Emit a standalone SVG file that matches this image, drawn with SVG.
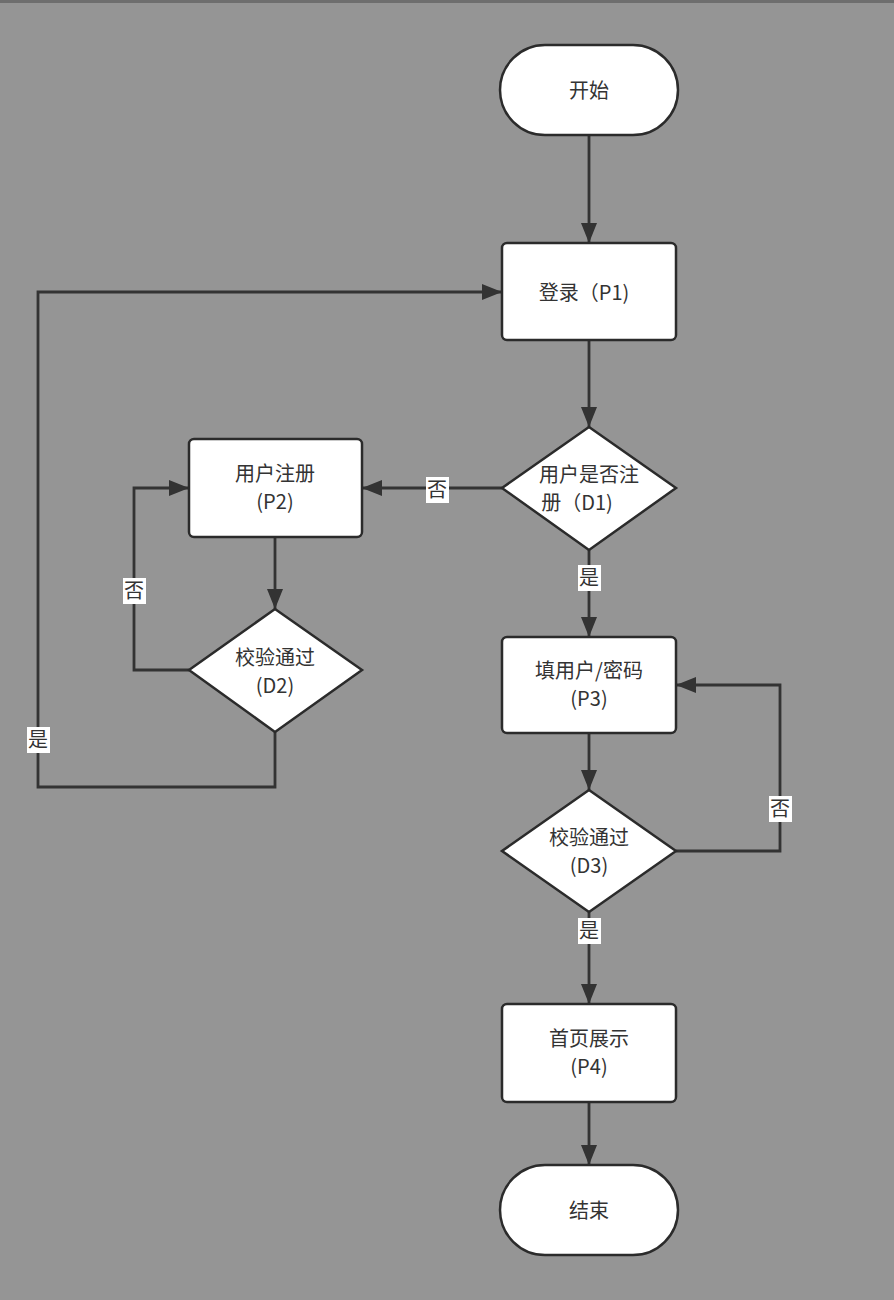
<svg xmlns="http://www.w3.org/2000/svg" width="894" height="1300" viewBox="0 0 894 1300">
<style>
.n{fill:#fff;stroke:#2b2b2b;stroke-width:2.5}
.t{font-family:"Noto Sans CJK SC","Liberation Sans",sans-serif;font-size:20px;fill:#333;text-anchor:middle}
.c{fill:none;stroke:#333;stroke-width:2.8}
.lb{fill:#fff}
</style>
<defs>
<marker id="a" viewBox="0 0 20 16" refX="20" refY="8" markerWidth="20" markerHeight="16" markerUnits="userSpaceOnUse" orient="auto">
<path d="M0,0 L20,8 L0,16 Z" fill="#333"/>
</marker>
</defs>
<rect width="894" height="1300" fill="#959595"/>
<rect width="894" height="3" fill="#6e6e6e"/>
<g id="connectors">
<path class="c" d="M589,135 V243" marker-end="url(#a)"/>
<path class="c" d="M589,340 V427" marker-end="url(#a)"/>
<path class="c" d="M502,488 H362" marker-end="url(#a)"/>
<path class="c" d="M589,550 V637" marker-end="url(#a)"/>
<path class="c" d="M275,537 V609" marker-end="url(#a)"/>
<path class="c" d="M189,670 H134 V488 H189" marker-end="url(#a)"/>
<path class="c" d="M275,732 V787 H38 V292 H502" marker-end="url(#a)"/>
<path class="c" d="M589,733 V790" marker-end="url(#a)"/>
<path class="c" d="M676,851 H780 V685 H676" marker-end="url(#a)"/>
<path class="c" d="M589,912 V1004" marker-end="url(#a)"/>
<path class="c" d="M589,1102 V1165" marker-end="url(#a)"/>
<rect class="lb" x="426" y="477" width="23" height="26"/>
<text class="t" x="437" y="497">否</text>
<rect class="lb" x="578" y="565" width="23" height="26"/>
<text class="t" x="589" y="585">是</text>
<rect class="lb" x="123" y="578" width="23" height="26"/>
<text class="t" x="134" y="598">否</text>
<rect class="lb" x="27" y="727" width="23" height="26"/>
<text class="t" x="38" y="747">是</text>
<rect class="lb" x="769" y="796" width="23" height="26"/>
<text class="t" x="780" y="816">否</text>
<rect class="lb" x="578" y="918" width="23" height="26"/>
<text class="t" x="589" y="938">是</text>
</g>
<g id="start"><rect class="n" x="500" y="45" width="178" height="90" rx="45"/><text class="t" x="589" y="98">开始</text></g>
<g id="p1"><rect class="n" x="502" y="243" width="174" height="97" rx="5"/><text class="t" x="584" y="300">登录（P1)</text></g>
<g id="d1"><polygon class="n" points="589,427 676,488 589,550 502,488"/><text class="t" x="589" y="482">用户是否注</text><text class="t" x="577" y="510">册（D1)</text></g>
<g id="p2"><rect class="n" x="189" y="439" width="173" height="98" rx="5"/><text class="t" x="275" y="481">用户注册</text><text class="t" x="275" y="509">(P2)</text></g>
<g id="d2"><polygon class="n" points="275,609 362,670 275,732 189,670"/><text class="t" x="275" y="665">校验通过</text><text class="t" x="275" y="693">(D2)</text></g>
<g id="p3"><rect class="n" x="502" y="637" width="174" height="96" rx="5"/><text class="t" x="589" y="678">填用户/密码</text><text class="t" x="589" y="706">(P3)</text></g>
<g id="d3"><polygon class="n" points="589,790 676,851 589,912 502,851"/><text class="t" x="589" y="845">校验通过</text><text class="t" x="589" y="873">(D3)</text></g>
<g id="p4"><rect class="n" x="502" y="1004" width="174" height="98" rx="5"/><text class="t" x="589" y="1046">首页展示</text><text class="t" x="589" y="1074">(P4)</text></g>
<g id="end"><rect class="n" x="500" y="1165" width="178" height="90" rx="45"/><text class="t" x="589" y="1218">结束</text></g>
</svg>
